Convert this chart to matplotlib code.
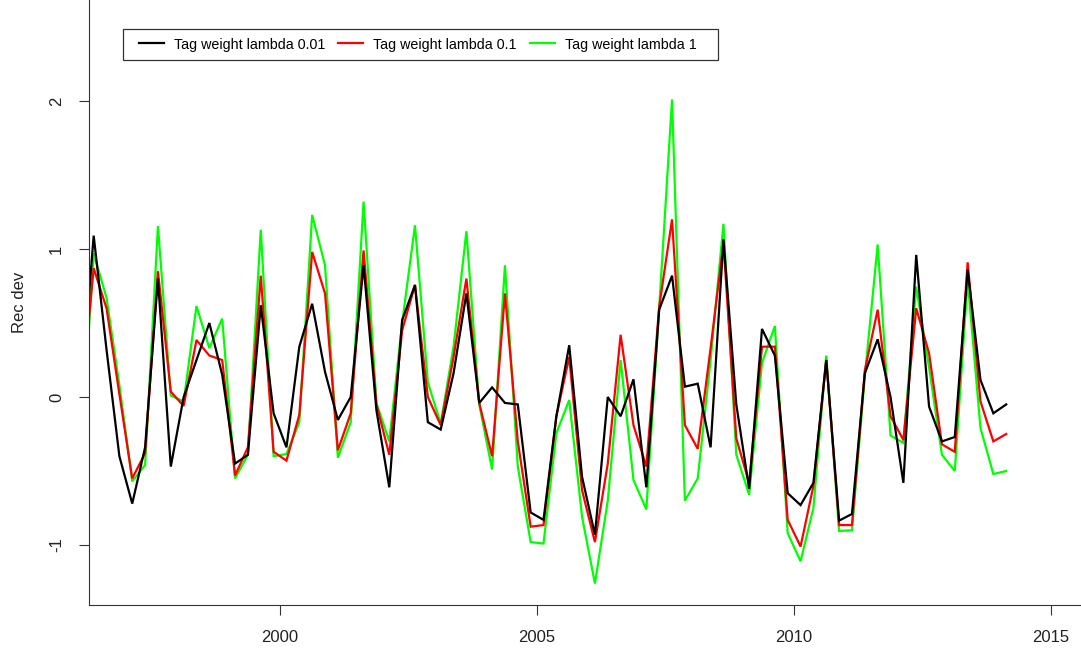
import numpy as np
import matplotlib
matplotlib.use("Agg")
import matplotlib.pyplot as plt
from matplotlib.patches import Rectangle

plt.rcParams['font.family'] = ['Liberation Sans', 'DejaVu Sans']
plt.rcParams['axes.unicode_minus'] = False

#---DATA
# quarterly recruitment deviations, first quarter 1996 .. first quarter 2014
start_year = 1996.125
n_quarters = 73
years = start_year + 0.25 * np.arange(n_quarters)

rec_001 = [0.00, 1.09, 0.32, -0.40, -0.72, -0.34, 0.80, -0.47, 0.00, 0.25,
           0.50, 0.15, -0.45, -0.39, 0.62, -0.11, -0.34, 0.34, 0.63, 0.17,
           -0.155, 0.00, 0.89, -0.09, -0.61, 0.52, 0.757, -0.17, -0.22, 0.16,
           0.70, -0.04, 0.065, -0.04, -0.05, -0.78, -0.83, -0.13, 0.35, -0.54,
           -0.93, 0.00, -0.13, 0.12, -0.61, 0.59, 0.82, 0.07, 0.09, -0.34,
           1.065, -0.05, -0.62, 0.46, 0.28, -0.65, -0.73, -0.58, 0.25, -0.835,
           -0.79, 0.16, 0.39, 0.00, -0.58, 0.96, -0.065, -0.30, -0.27, 0.86,
           0.115, -0.11, -0.05]

rec_01 = [-0.05, 0.87, 0.60, 0.02, -0.55, -0.38, 0.85, 0.036, -0.06, 0.385,
          0.28, 0.25, -0.53, -0.34, 0.82, -0.37, -0.43, -0.12, 0.98, 0.70,
          -0.36, -0.11, 0.99, -0.05, -0.39, 0.45, 0.757, 0.00, -0.19, 0.27,
          0.80, -0.04, -0.40, 0.70, -0.30, -0.876, -0.865, -0.13, 0.27, -0.63,
          -0.98, -0.45, 0.42, -0.19, -0.47, 0.61, 1.20, -0.19, -0.35, 0.33,
          1.04, -0.28, -0.58, 0.34, 0.34, -0.83, -1.01, -0.60, 0.25, -0.865,
          -0.865, 0.18, 0.59, -0.13, -0.29, 0.60, 0.295, -0.32, -0.37, 0.91,
          -0.03, -0.30, -0.25]

rec_1 = [-0.40, 0.97, 0.67, 0.08, -0.57, -0.46, 1.155, 0.01, -0.03, 0.615,
         0.33, 0.53, -0.55, -0.39, 1.13, -0.40, -0.385, -0.17, 1.23, 0.89,
         -0.41, -0.17, 1.32, -0.04, -0.30, 0.50, 1.16, 0.10, -0.18, 0.34,
         1.12, -0.05, -0.49, 0.89, -0.47, -0.98, -0.99, -0.245, -0.02, -0.81,
         -1.26, -0.70, 0.25, -0.56, -0.76, 0.60, 2.01, -0.70, -0.55, 0.25,
         1.17, -0.39, -0.66, 0.23, 0.48, -0.92, -1.11, -0.75, 0.28, -0.905,
         -0.90, 0.14, 1.03, -0.26, -0.31, 0.745, 0.20, -0.39, -0.50, 0.79,
         -0.21, -0.52, -0.50]

labels = ["Tag weight lambda 0.01", "Tag weight lambda 0.1", "Tag weight lambda 1"]
colors = ["black", "#ff0000", "#00ff00"]

#--- Plot
fig = plt.figure(figsize=(10.81, 6.51), dpi=100)
ax = fig.add_axes([89 / 1081, 46 / 651, 1 - 89 / 1081, 605 / 651])

series = [rec_001, rec_01, rec_1]
handles = [None] * 3
for k in [2, 1, 0]:
    handles[k], = ax.plot(years, series[k], color=colors[k], lw=1.6,
                          solid_joinstyle='miter')

ax.set_xlim(1996.284, 2015.58)
ax.set_ylim(-1.405, 2.682)
ax.set_xticks([2000, 2005, 2010, 2015])
ax.set_yticks([-1, 0, 1, 2])
ax.tick_params(axis='both', direction='out', length=7, width=0.8,
               color='#333333', labelsize=12, labelcolor='#222222')
ax.tick_params(axis='x', pad=11)
ax.tick_params(axis='y', pad=11)
for lab in ax.get_yticklabels():
    lab.set_rotation(90)
    lab.set_va('center')
ax.spines['top'].set_visible(False)
ax.spines['right'].set_visible(False)
ax.spines['left'].set_color('#333333')
ax.spines['bottom'].set_color('#333333')
ax.spines['left'].set_linewidth(0.8)
ax.spines['bottom'].set_linewidth(0.8)
ax.set_ylabel("Rec dev", fontsize=12, color='#222222', labelpad=16)

# legend box in the R style
fig.patches.append(Rectangle((123 / 1081, 1 - 60 / 651), (718 - 123) / 1081,
                             31 / 651, transform=fig.transFigure,
                             fill=False, edgecolor='#333333', lw=0.9))
fig.legend(handles, labels, loc='center left', ncol=3, frameon=False,
           bbox_to_anchor=(139 / 1081, 1 - 44.5 / 651), fontsize=10.3,
           handlelength=1.75, handletextpad=0.7, columnspacing=0.9,
           borderpad=0, borderaxespad=0)

fig.savefig("out.png", dpi=100)
